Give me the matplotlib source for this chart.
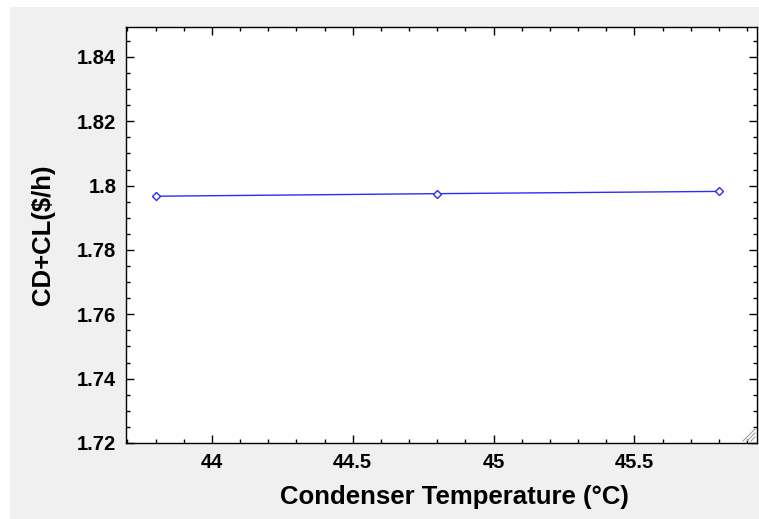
import matplotlib
matplotlib.use("Agg")
import matplotlib.pyplot as plt
from matplotlib.patches import Rectangle
from matplotlib.ticker import MultipleLocator

# data
temps = [43.8, 44.8, 45.8]
cost = [1.7967, 1.7975, 1.7982]

plt.rcParams['font.family'] = ['Liberation Sans', 'DejaVu Sans']
plt.rcParams['font.weight'] = 'bold'

fig = plt.figure(figsize=(7.59, 5.19), dpi=100, facecolor='white')
# grey panel behind the axes
fig.patches.append(Rectangle((10 / 759, 0), 1, (519 - 7) / 519,
                             transform=fig.transFigure, facecolor='#f0f0f0',
                             edgecolor='none', zorder=-1))

ax = fig.add_axes([126 / 759, 1 - 443 / 519, (757 - 126) / 759, (443 - 27) / 519])
ax.plot(temps, cost, color='#2b2bff', lw=1.0, marker='D', ms=4.5,
        mfc='white', mec='#2b2bff', mew=1.0)

ax.set_xlim(43.695, 45.935)
ax.set_ylim(1.72, 1.8493)
ax.xaxis.set_minor_locator(MultipleLocator(0.1))
ax.yaxis.set_minor_locator(MultipleLocator(0.005))
ax.set_xticks([44, 44.5, 45, 45.5])
ax.set_xticklabels(['44', '44.5', '45', '45.5'])
ax.set_yticks([1.72, 1.74, 1.76, 1.78, 1.8, 1.82, 1.84])
ax.set_yticklabels(['1.72', '1.74', '1.76', '1.78', '1.8', '1.82', '1.84'])

ax.tick_params(which='both', direction='in', top=True, right=True, labelsize=14.5, pad=7)
ax.tick_params(which='major', length=6, width=1)
ax.tick_params(which='minor', length=3, width=1)
for s in ax.spines.values():
    s.set_linewidth(1.0)
    s.set_color('black')

ax.set_xlabel('Condenser Temperature (°C)', fontsize=18.5, fontweight='bold')
ax.xaxis.set_label_coords(0.52, -0.1)
ax.set_ylabel('CD+CL($/h)', fontsize=18.5, fontweight='bold', labelpad=16)

# resize grip in the lower right corner
for k in range(3):
    d = 4 + 4 * k
    ax.plot([1 - 2 / 631, 1 - (d + 2) / 631], [d / 416 + 2 / 416, 2 / 416],
            transform=ax.transAxes, color='#a0a0a0', lw=0.8, clip_on=False)

fig.savefig('out.png', dpi=100)
